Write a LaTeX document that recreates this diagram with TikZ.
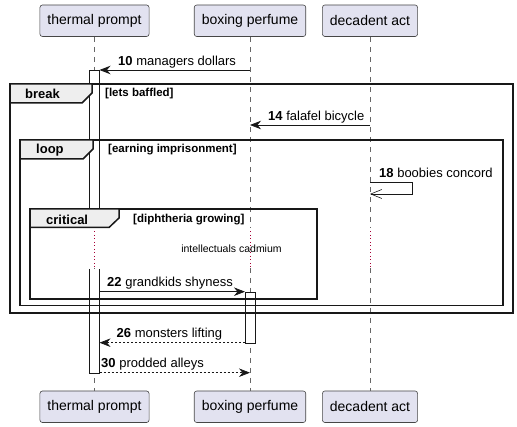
\documentclass[tikz,border=0pt]{standalone}
\usepackage{fontspec}
\setmainfont{Liberation Sans}
\usetikzlibrary{arrows.meta}

\definecolor{partfill}{HTML}{E2E2F0}
\definecolor{partdraw}{HTML}{181818}
\definecolor{headfill}{HTML}{EEEEEE}
\definecolor{delayred}{HTML}{A80036}

\tikzset{
    participant/.style={draw=partdraw!80, fill=partfill, rounded corners=2.5pt, line width=0.6pt,
        minimum height=31.5pt, inner xsep=7.5pt, font=\fontsize{14}{16}\selectfont},
    lifeline/.style={draw=black!60, line width=0.6pt, dash pattern=on 5pt off 5pt},
    activebar/.style={draw=partdraw, fill=white, line width=0.8pt},
    frame/.style={draw=partdraw, line width=1.5pt},
    framehead/.style={draw=partdraw, fill=headfill, line width=1.5pt},
    headtext/.style={anchor=west, inner sep=0pt, font=\fontsize{13}{15}\selectfont\bfseries},
    condtext/.style={anchor=west, inner sep=0pt, font=\fontsize{11.5}{13}\selectfont\bfseries},
    msg/.style={draw=partdraw, line width=0.8pt, -{Stealth[length=11pt, width=8.5pt, inset=3.5pt]}},
    reply/.style={msg, dash pattern=on 2pt off 2pt},
    selfmsg/.style={draw=partdraw, line width=0.6pt, -{Straight Barb[length=11pt, width=9pt]}},
    msgtext/.style={anchor=base west, inner sep=0pt, font=\fontsize{13}{15}\selectfont},
    delayline/.style={draw=delayred, line width=0.8pt, dash pattern=on 1pt off 2.5pt},
}

\begin{document}
\begin{tikzpicture}[x=1pt, y=-1pt]
    \useasboundingbox (0,0) rectangle (517,427);

    % participants, top and bottom
    \node[participant] (tp) at (94.5,20.75) {thermal prompt};
    \node[participant] (bp) at (250,20.75) {boxing perfume};
    \node[participant] (da) at (370,20.75) {decadent act};
    \node[participant] (tp-bot) at (94.5,406.75) {thermal prompt};
    \node[participant] (bp-bot) at (250,406.75) {boxing perfume};
    \node[participant] (da-bot) at (370,406.75) {decadent act};

    % rows of the messages
    \coordinate (r10) at (0,70);
    \coordinate (r14) at (0,125);
    \coordinate (r18) at (0,182);
    \coordinate (r18b) at (0,194);
    \coordinate (r22) at (0,291.7);
    \coordinate (r26) at (0,342.7);
    \coordinate (r30) at (0,372.7);
    \coordinate (delaytop) at (0,228);
    \coordinate (dotstart) at (0,231.5);
    \coordinate (delaybot) at (0,268);

    % lifelines, broken by the delay
    \foreach \p in {tp,bp,da} {
        \draw[lifeline] (\p.south) -- (\p |- delaytop);
        \draw[lifeline] (\p |- delaybot) -- (\p-bot.north);
        \draw[delayline] (\p |- dotstart) -- (\p |- delaybot);
    }

    % activations
    \draw[activebar] (89.5,209) -- (89.5,70) -- (99.5,70) -- (99.5,209);
    \draw[activebar] (89.5,269) -- (89.5,373) -- (99.5,373) -- (99.5,269);
    \draw[activebar] (245,292) rectangle (255,343);
    \coordinate (tp-act) at (99.5,0);
    \coordinate (bp-act) at (245,0);

    % break
    \draw[frame] (10,84) rectangle (513,313);
    \draw[framehead] (10,84) -- (92,84) -- (92,93) -- (82,103) -- (10,103) -- cycle;
    \node[headtext] (break) at (25,94) {break};
    \node[condtext] (breakcond) at (105,94) {[lets baffled]};

    % loop
    \draw[frame] (20,140) rectangle (503,305.5);
    \draw[framehead] (20,140) -- (93,140) -- (93,149) -- (83,159) -- (20,159) -- cycle;
    \node[headtext] (loop) at (36,150) {loop};
    \node[condtext] (loopcond) at (108,150) {[earning imprisonment]};

    % critical
    \draw[frame] (30,209) rectangle (317,299);
    \draw[framehead] (30,209) -- (119,209) -- (119,218) -- (109,227.5) -- (30,227.5) -- cycle;
    \node[headtext] (critical) at (46,219.5) {critical};
    \node[condtext] (criticalcond) at (133,219.5) {[diphtheria growing]};

    % delay
    \node[inner sep=0pt, font=\fontsize{10.5}{12}\selectfont] (delay) at (231.5,249) {intellectuals cadmium};

    % messages
    \draw[msg] (bp |- r10) -- (tp-act |- r10);
    \node[msgtext] (l10) at (118,65.5) {\textbf{10} managers dollars};

    \draw[msg] (da |- r14) -- (bp |- r14);
    \node[msgtext] (l14) at (268,120.5) {\textbf{14} falafel bicycle};

    \draw[selfmsg] (da |- r18) -- ++(42.5,0) -- ++(0,12) -- (da |- r18b);
    \node[msgtext] (l18) at (379,177.5) {\textbf{18} boobies concord};

    \draw[msg] (tp-act |- r22) -- (bp-act |- r22);
    \node[msgtext] (l22) at (107,287) {\textbf{22} grandkids shyness};

    \draw[reply] (bp-act |- r26) -- (tp-act |- r26);
    \node[msgtext] (l26) at (116.5,338) {\textbf{26} monsters lifting};

    \draw[reply] (tp-act |- r30) -- (bp |- r30);
    \node[msgtext] (l30) at (101,368) {\textbf{30} prodded alleys};
\end{tikzpicture}
\end{document}
